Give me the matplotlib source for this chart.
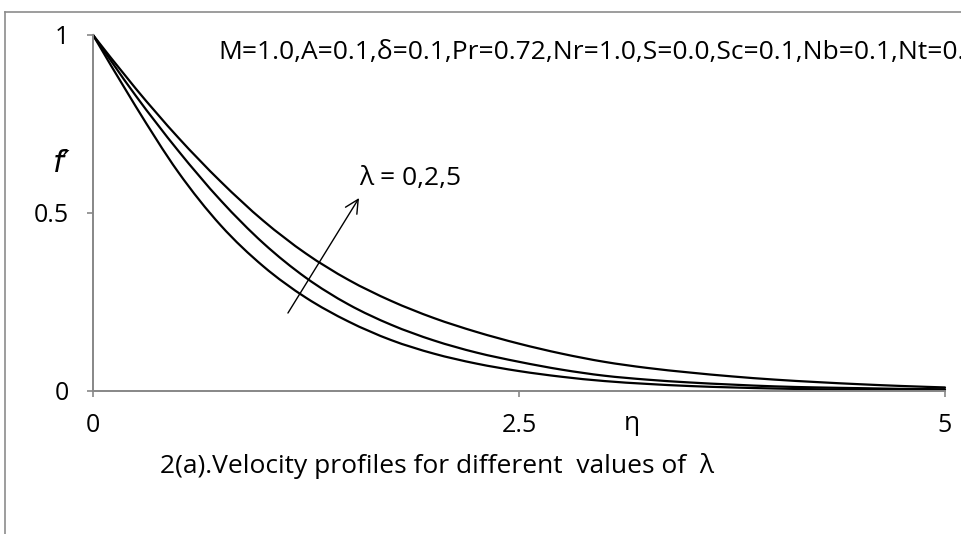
import numpy as np
import matplotlib
matplotlib.use("Agg")
from matplotlib import pyplot as plt
from matplotlib.lines import Line2D
from matplotlib.path import Path
from matplotlib.patches import PathPatch

# values
eta = [0, 0.25, 0.5, 0.75, 1.0, 1.25, 1.5, 1.75, 2.0, 2.25, 2.5,
       2.75, 3.0, 3.25, 3.5, 3.75, 4.0, 4.25, 4.5, 4.75, 5.0]
fp_lam0 = [1.0, 0.80, 0.615, 0.465, 0.350, 0.262, 0.195, 0.143, 0.105, 0.077, 0.056,
           0.040, 0.028, 0.020, 0.014, 0.010, 0.007, 0.005, 0.004, 0.003, 0.003]
fp_lam2 = [1.0, 0.83, 0.675, 0.535, 0.415, 0.318, 0.243, 0.186, 0.142, 0.108, 0.082,
           0.060, 0.043, 0.032, 0.024, 0.018, 0.013, 0.010, 0.008, 0.006, 0.005]
fp_lam5 = [1.0, 0.85, 0.712, 0.588, 0.478, 0.386, 0.312, 0.253, 0.205, 0.166, 0.133,
           0.105, 0.082, 0.065, 0.052, 0.041, 0.032, 0.025, 0.019, 0.014, 0.010]

x_ticks = [0, 2.5, 5]
x_ticklabels = ["0", "2.5", "5"]
y_ticks = [0, 0.5, 1]
y_ticklabels = ["0", "0.5", "1"]

params_text = "M=1.0,A=0.1,δ=0.1,Pr=0.72,Nr=1.0,S=0.0,Sc=0.1,Nb=0.1,Nt=0.1"
lam_text = "λ = 0,2,5"
caption = "2(a).Velocity profiles for different  values of  λ"

plt.rcParams['font.family'] = ['Open Sans', 'DejaVu Sans']
axis_grey = '#878787'


def smooth_path(x, y):
    # smoothed line like a spreadsheet chart: bezier segments through the points
    p = np.column_stack([x, y]).astype(float)
    verts = [p[0]]
    codes = [Path.MOVETO]
    n = len(p)
    for i in range(n - 1):
        p0 = p[i - 1] if i > 0 else p[i]
        p1, p2 = p[i], p[i + 1]
        p3 = p[i + 2] if i + 2 < n else p[i + 1]
        verts += [p1 + (p2 - p0) / 6, p2 - (p3 - p1) / 6, p2]
        codes += [Path.CURVE4] * 3
    return Path(verts, codes)


W, H = 962, 534
fig = plt.figure(figsize=(W / 100, H / 100), dpi=100)
ax = fig.add_axes([93 / W, 1 - 391 / H, 852 / W, 356 / H])

for fp in (fp_lam0, fp_lam2, fp_lam5):
    ax.add_patch(PathPatch(smooth_path(eta, fp), fill=False, edgecolor='black',
                           lw=1.6, clip_on=False, joinstyle='round', capstyle='round'))

ax.set_xlim(0, 5)
ax.set_ylim(0, 1)
ax.set_xticks(x_ticks, x_ticklabels)
ax.set_yticks(y_ticks, y_ticklabels)
for s in ('top', 'right'):
    ax.spines[s].set_visible(False)
for s in ('left', 'bottom'):
    ax.spines[s].set_color(axis_grey)
    ax.spines[s].set_linewidth(1.4)
ax.tick_params(axis='both', direction='out', length=4.5, width=1.2,
               color=axis_grey, labelsize=18, labelcolor='black')
ax.tick_params(axis='x', pad=11)
ax.tick_params(axis='y', pad=13)

# arrow showing increasing lambda
ax.annotate('', xy=(1.561, 0.542), xytext=(1.144, 0.219),
            arrowprops=dict(arrowstyle='->', lw=1.0, color='black',
                            mutation_scale=24, shrinkA=0, shrinkB=0))
ax.text(1.561, 0.598, lam_text, fontsize=19, ha='left', va='center')

fig.text(218 / W, 1 - 52 / H, params_text, fontsize=19, ha='left', va='center')
fig.text(62 / W, 1 - 163 / H, "f′", fontsize=22, style='italic',
         ha='center', va='center', family=['DejaVu Sans'])
fig.text(632 / W, 1 - 424 / H, "η", fontsize=19, ha='center', va='center')
fig.text(160 / W, 1 - 466 / H, caption, fontsize=19, ha='left', va='center')

# outer frame (left and top edges visible)
fig.add_artist(Line2D([5 / W, 5 / W], [0, 1 - 12 / H], color='#8c8c8c', lw=1.2))
fig.add_artist(Line2D([5 / W, 1], [1 - 12 / H, 1 - 12 / H], color='#8c8c8c', lw=1.2))

fig.savefig("out.png", dpi=100)
